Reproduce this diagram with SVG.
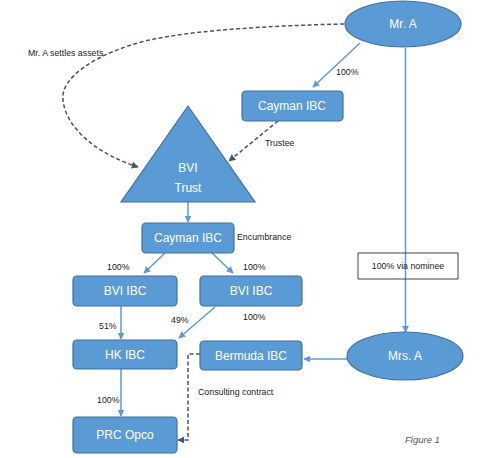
<svg xmlns="http://www.w3.org/2000/svg" width="500" height="458" viewBox="0 0 500 458">
<style>
.node{fill:#5B9BD5;stroke:#41719C;stroke-width:1.2}
.nt{fill:#fff;font-family:"Liberation Sans",Arial,sans-serif;font-size:12px;text-anchor:middle}
.lbl{fill:#222;font-family:"Liberation Sans",Arial,sans-serif;font-size:8.8px}
.ln{stroke:#5B9BD5;stroke-width:1.5;fill:none}
.dash{stroke:#44546A;stroke-width:1.5;fill:none;stroke-dasharray:4,2.5}
</style>
<defs>
<marker id="ab" viewBox="0 0 10 10" refX="9" refY="5" markerWidth="7" markerHeight="7" orient="auto" markerUnits="userSpaceOnUse"><path d="M0,0 L10,5 L0,10 z" fill="#5B9BD5"/></marker>
<marker id="ad" viewBox="0 0 10 10" refX="9" refY="5" markerWidth="7" markerHeight="7" orient="auto" markerUnits="userSpaceOnUse"><path d="M0,0 L10,5 L0,10 z" fill="#44546A"/></marker>
</defs>
<rect width="500" height="458" fill="#fff"/>
<g id="connectors">
<path class="dash" d="M344,24 C300,25 200,28 145,41 C95,54 60,78 63,100 C66,130 100,155 138,167" marker-end="url(#ad)"/>
<line class="ln" x1="360" y1="43" x2="313" y2="87" marker-end="url(#ab)"/>
<line class="ln" x1="405.5" y1="48" x2="405.5" y2="332" marker-end="url(#ab)"/>
<line class="dash" x1="278" y1="121" x2="229" y2="161" marker-end="url(#ad)"/>
<line class="ln" x1="188" y1="202" x2="188" y2="222" marker-end="url(#ab)"/>
<line class="ln" x1="165" y1="253" x2="144" y2="273" marker-end="url(#ab)"/>
<line class="ln" x1="212" y1="253" x2="233" y2="273" marker-end="url(#ab)"/>
<line class="ln" x1="121" y1="306" x2="121" y2="339" marker-end="url(#ab)"/>
<line class="ln" x1="215" y1="307" x2="179" y2="338" marker-end="url(#ab)"/>
<line class="ln" x1="121" y1="369" x2="121" y2="416" marker-end="url(#ab)"/>
<line class="ln" x1="347" y1="359" x2="304" y2="359" marker-end="url(#ab)"/>
<path class="dash" d="M200,354 L188,354 L188,440 L178,440" marker-end="url(#ad)"/>
</g>
<g id="labels">
<text class="lbl" x="28" y="56">Mr. A settles assets</text>
<text class="lbl" x="336" y="75">100%</text>
<text class="lbl" x="265" y="146">Trustee</text>
<text class="lbl" x="237" y="240">Encumbrance</text>
<text class="lbl" x="107" y="270">100%</text>
<text class="lbl" x="243" y="270">100%</text>
<text class="lbl" x="99" y="329">51%</text>
<text class="lbl" x="171" y="323">49%</text>
<text class="lbl" x="243" y="320">100%</text>
<text class="lbl" x="97" y="403">100%</text>
<text class="lbl" x="198" y="395">Consulting contract</text>
<text x="405" y="443" fill="#555" font-family="'Liberation Sans',Arial,sans-serif" font-size="9.5px" font-style="italic">Figure 1</text>
</g>
<g id="nominee">
<rect x="358" y="253" width="100" height="26" fill="none" stroke="#444" stroke-width="1"/>
<text class="lbl" x="408" y="269" text-anchor="middle">100% via nominee</text>
</g>
<g id="mrA"><ellipse class="node" cx="403" cy="24" rx="58" ry="23"/><text class="nt" x="403" y="28">Mr. A</text></g>
<g id="caymanTop"><rect class="node" x="242" y="91" width="101" height="30" rx="4"/><text class="nt" x="292" y="110">Cayman IBC</text></g>
<g id="trust"><polygon class="node" points="188,106 255,202 121,202"/><text class="nt" x="188" y="172">BVI</text><text class="nt" x="188" y="192">Trust</text></g>
<g id="caymanMid"><rect class="node" x="142" y="223" width="92" height="30" rx="4"/><text class="nt" x="188" y="242">Cayman IBC</text></g>
<g id="bviLeft"><rect class="node" x="73" y="276" width="104" height="30" rx="4"/><text class="nt" x="125" y="295">BVI IBC</text></g>
<g id="bviRight"><rect class="node" x="200" y="276" width="102" height="30" rx="4"/><text class="nt" x="251" y="295">BVI IBC</text></g>
<g id="hk"><rect class="node" x="73" y="340" width="104" height="29" rx="4"/><text class="nt" x="125" y="359">HK IBC</text></g>
<g id="bermuda"><rect class="node" x="200" y="341" width="102" height="29" rx="4"/><text class="nt" x="251" y="360">Bermuda IBC</text></g>
<g id="prc"><rect class="node" x="73" y="417" width="104" height="36" rx="4"/><text class="nt" x="125" y="439">PRC Opco</text></g>
<g id="mrsA"><ellipse class="node" cx="405" cy="356" rx="58" ry="24"/><text class="nt" x="405" y="360">Mrs. A</text></g>
</svg>
